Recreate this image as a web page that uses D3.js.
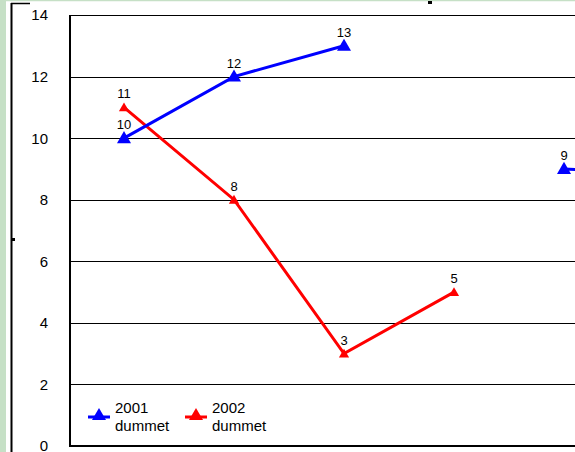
<!DOCTYPE html>
<html>
<head>
<meta charset="utf-8">
<script src="https://cdn.jsdelivr.net/npm/d3@7"></script>
<style>
  body { margin: 0; background: #fff; }
  text { font-family: Arial, "Liberation Sans", sans-serif; fill: #000; }
</style>
</head>
<body>
<svg id="chart" width="575" height="452"></svg>
<script>
// data
var categories = ["c1", "c2", "c3", "c4", "c5", "c6"];
var series2001 = [10, 12, 13, null, 9, 8.8];
var series2002 = [11, 8, 3, 5, null, null];
var yTicks = [0, 2, 4, 6, 8, 10, 12, 14];
var seriesNames = ["2001", "2002"];

var svg = d3.select("#chart"),
    margin = {top: 15, left: 69, bottom: 6},
    width = +svg.attr("width"),
    height = +svg.attr("height");

// window frame bits
svg.append("rect").attr("x", 0).attr("y", 0).attr("width", 6).attr("height", height).attr("fill", "#c6e0c6");
svg.append("line").attr("x1", 6).attr("x2", width).attr("y1", 0.5).attr("y2", 0.5)
    .attr("stroke", "#c6e0c6").attr("stroke-width", 1.5);
svg.append("line").attr("x1", 11.5).attr("x2", 11.5).attr("y1", 3).attr("y2", height)
    .attr("stroke", "#000").attr("stroke-width", 2);
svg.append("line").attr("x1", 11).attr("x2", 30).attr("y1", 3.5).attr("y2", 3.5)
    .attr("stroke", "#000").attr("stroke-width", 1.5);
svg.append("rect").attr("x", 12).attr("y", 238).attr("width", 3).attr("height", 3).attr("fill", "#000");
svg.append("rect").attr("x", 428).attr("y", 1).attr("width", 4).attr("height", 3).attr("fill", "#000");

var x = d3.scaleBand()
    .domain(categories)
    .range([margin.left, margin.left + 110 * categories.length]);

var y = d3.scaleLinear()
    .domain([0, 14])
    .range([height - margin.bottom, margin.top]);

// gridlines
svg.append("g")
    .selectAll("line")
    .data(yTicks.filter(function(d) { return d > 0; }))
    .enter().append("line")
    .attr("x1", margin.left).attr("x2", width)
    .attr("y1", function(d) { return Math.round(y(d)) + 0.5; })
    .attr("y2", function(d) { return Math.round(y(d)) + 0.5; })
    .attr("stroke", "#000").attr("stroke-width", 1);

// y axis labels
svg.append("g")
    .selectAll("text")
    .data(yTicks)
    .enter().append("text")
    .attr("x", 48)
    .attr("y", function(d) { return y(d); })
    .attr("dy", "0.36em")
    .attr("text-anchor", "end")
    .attr("font-size", 15)
    .text(function(d) { return d; });

// axes lines
svg.append("line").attr("x1", margin.left + 1).attr("x2", margin.left + 1)
    .attr("y1", margin.top).attr("y2", y(0) + 1)
    .attr("stroke", "#000").attr("stroke-width", 2);
svg.append("line").attr("x1", margin.left).attr("x2", width)
    .attr("y1", y(0)).attr("y2", y(0))
    .attr("stroke", "#000").attr("stroke-width", 2);

var tri = d3.symbol().type(d3.symbolTriangle);

function drawSeries(values, color, size) {
  var pts = values.map(function(v, i) { return {cat: categories[i], v: v}; });
  var line = d3.line()
      .defined(function(d) { return d.v != null; })
      .x(function(d) { return x(d.cat) + x.bandwidth() / 2; })
      .y(function(d) { return y(d.v); });
  svg.append("path")
      .datum(pts)
      .attr("d", line)
      .attr("fill", "none")
      .attr("stroke", color)
      .attr("stroke-width", 3);
  var valid = pts.filter(function(d) { return d.v != null; });
  svg.append("g").selectAll("path")
      .data(valid)
      .enter().append("path")
      .attr("d", tri.size(size))
      .attr("transform", function(d) { return "translate(" + (x(d.cat) + x.bandwidth() / 2) + "," + (y(d.v) + 1) + ")"; })
      .attr("fill", color);
  svg.append("g").selectAll("text")
      .data(valid)
      .enter().append("text")
      .attr("x", function(d) { return x(d.cat) + x.bandwidth() / 2; })
      .attr("y", function(d) { return y(d.v) - 9; })
      .attr("text-anchor", "middle")
      .attr("font-size", 13)
      .text(function(d) { return d.v; });
}

drawSeries(series2002, "#ff0000", 45);
drawSeries(series2001, "#0000ff", 85);

// legend
var legend = svg.append("g");
var legendItems = [
  {name: seriesNames[0], color: "#0000ff", x: 88},
  {name: seriesNames[1], color: "#ff0000", x: 185}
];
legendItems.forEach(function(d) {
  var g = legend.append("g").attr("transform", "translate(" + d.x + ",417)");
  g.append("line").attr("x1", 0).attr("x2", 22).attr("y1", 0).attr("y2", 0)
      .attr("stroke", d.color).attr("stroke-width", 3);
  g.append("path").attr("d", tri.size(85)).attr("transform", "translate(11,-1)").attr("fill", d.color);
  g.append("text").attr("x", 27).attr("y", -4).attr("font-size", 15).text(d.name);
  g.append("text").attr("x", 27).attr("y", 14).attr("font-size", 15).text("dummet");
});
</script>
</body>
</html>
